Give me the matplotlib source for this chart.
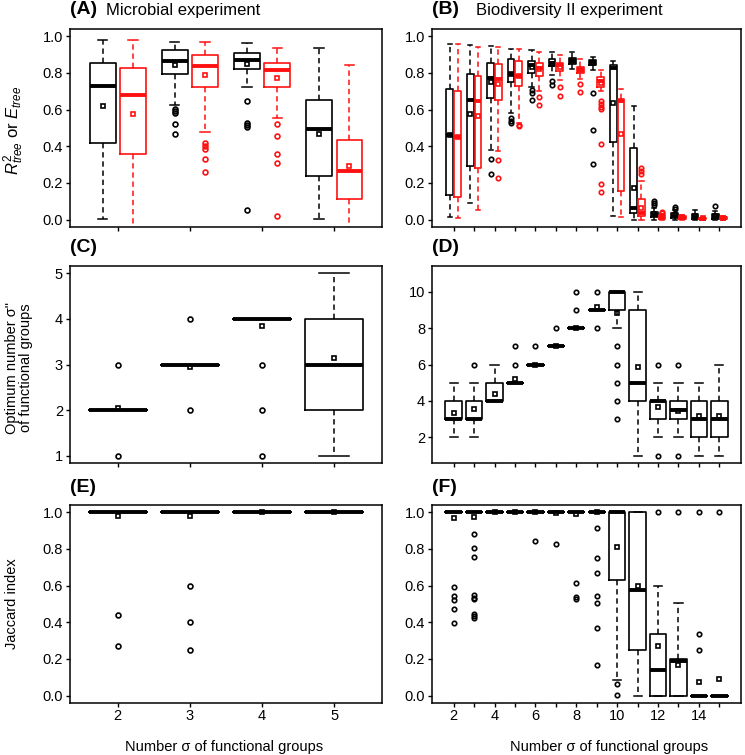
import matplotlib
matplotlib.use("Agg")
import matplotlib.pyplot as plt

plt.rcParams['font.family'] = ['Liberation Sans', 'DejaVu Sans']
plt.rcParams['mathtext.fontset'] = 'custom'
plt.rcParams['mathtext.rm'] = 'Liberation Sans'
plt.rcParams['mathtext.it'] = 'Liberation Sans:italic'

RED = '#ff1010'

# ---- data: (whisker low, q1, median, q3, whisker high) per group ----
A_groups = [2, 3, 4, 5]
A_blk_box = [(0.005, 0.42, 0.731, 0.852, 0.982),
             (0.627, 0.795, 0.868, 0.923, 0.969),
             (0.722, 0.823, 0.870, 0.911, 0.962),
             (0.005, 0.238, 0.495, 0.654, 0.938)]
A_blk_mean = [0.62, 0.841, 0.85, 0.466]
A_blk_out = [[], [0.603, 0.591, 0.58, 0.521, 0.468],
             [0.649, 0.53, 0.517, 0.503, 0.055], []]
A_red_box = [(-0.25, 0.357, 0.682, 0.828, 0.978),
             (0.479, 0.722, 0.836, 0.896, 0.969),
             (0.554, 0.726, 0.814, 0.854, 0.936),
             (-0.25, 0.11, 0.265, 0.433, 0.845)]
A_red_mean = [0.576, 0.79, 0.773, 0.292]
A_red_out = [[], [0.42, 0.40, 0.388, 0.333, 0.26],
             [0.521, 0.457, 0.357, 0.307, 0.022], []]

B_groups = list(range(2, 16))
B_blk_box = [(0.013, 0.132, 0.461, 0.713, 0.956),
             (0.091, 0.291, 0.653, 0.792, 0.955),
             (0.378, 0.662, 0.772, 0.856, 0.945),
             (0.58, 0.75, 0.795, 0.874, 0.933),
             (0.726, 0.801, 0.841, 0.863, 0.923),
             (0.79, 0.836, 0.854, 0.874, 0.912),
             (0.823, 0.85, 0.865, 0.881, 0.914),
             (0.814, 0.841, 0.859, 0.872, 0.89),
             (0.018, 0.426, 0.827, 0.841, 0.863),
             (0.0, 0.037, 0.064, 0.389, 0.622),
             (0.0, 0.012, 0.025, 0.04, 0.065),
             (0.0, 0.01, 0.02, 0.035, 0.05),
             (0.0, 0.005, 0.015, 0.03, 0.055),
             (0.0, 0.005, 0.015, 0.03, 0.045)]
B_blk_mean = [0.46, 0.576, 0.75, 0.795, 0.835, 0.85, 0.863, 0.855,
              0.635, 0.174, 0.03, 0.025, 0.018, 0.02]
B_blk_out = [[], [], [0.333, 0.247], [0.554, 0.539, 0.528],
             [0.708, 0.69, 0.653], [0.755, 0.735], [], [0.69, 0.488, 0.302],
             [], [], [0.078, 0.092, 0.104], [0.058, 0.07], [], [0.075]]
B_red_box = [(0.01, 0.122, 0.452, 0.704, 0.956),
             (0.05, 0.283, 0.649, 0.786, 0.942),
             (0.375, 0.653, 0.768, 0.85, 0.942),
             (0.525, 0.731, 0.786, 0.865, 0.933),
             (0.704, 0.783, 0.827, 0.856, 0.914),
             (0.762, 0.81, 0.841, 0.856, 0.896),
             (0.768, 0.799, 0.817, 0.832, 0.878),
             (0.704, 0.726, 0.755, 0.777, 0.814),
             (0.013, 0.155, 0.649, 0.658, 0.713),
             (0.0, 0.018, 0.035, 0.113, 0.21),
             (0.0, 0.005, 0.015, 0.025, 0.03),
             (0.0, 0.002, 0.008, 0.018, 0.025),
             (0.0, 0.003, 0.006, 0.009, 0.012),
             (0.0, 0.004, 0.008, 0.015, 0.02)]
B_red_mean = [0.452, 0.567, 0.741, 0.786, 0.82, 0.835, 0.815, 0.745,
              0.466, 0.065, 0.018, 0.012, 0.007, 0.01]
B_red_out = [[], [], [0.324, 0.227], [0.517, 0.51], [0.667, 0.624],
             [0.722, 0.676], [0.741, 0.695],
             [0.646, 0.631, 0.616, 0.603, 0.415, 0.192, 0.15],
             [], [0.25, 0.265, 0.28], [0.035, 0.04], [], [], []]

C_box = [(2, 2, 2, 2, 2), (3, 3, 3, 3, 3), (4, 4, 4, 4, 4), (1, 2, 3, 4, 5)]
C_mean = [2.05, 2.95, 3.85, 3.15]
C_out = [[1, 3], [2, 4], [1, 2, 3], []]

D_box = [(2, 3, 3, 4, 5), (2, 3, 3, 4, 5), (4, 4, 4, 5, 6), (5, 5, 5, 5, 5),
         (6, 6, 6, 6, 6), (7, 7, 7, 7, 7), (8, 8, 8, 8, 8), (9, 9, 9, 9, 9),
         (8, 9, 10, 10, 10), (1, 4, 5, 9, 10), (2, 3, 4, 4, 5),
         (2, 3, 3.5, 4, 5), (1, 2, 3, 4, 5), (1, 2, 3, 4, 6)]
D_mean = [3.35, 3.54, 4.36, 5.2, 6.0, 7.0, 8.0, 9.15, 8.85, 5.85, 3.65,
          3.45, 3.15, 3.15]
D_out = [[], [6], [], [6, 7], [7], [8], [9, 10], [8, 10], [7, 6, 5, 4, 3],
         [], [1, 6], [1, 6], [], []]

E_box = [(1, 1, 1, 1, 1)] * 4
E_mean = [0.98, 0.98, 1.0, 1.0]
E_out = [[0.44, 0.27], [0.6, 0.4, 0.25], [], []]

F_box = [(1, 1, 1, 1, 1)] * 8 + [(0.086, 0.633, 1.0, 1.0, 1.0),
                                 (0.0, 0.251, 0.578, 1.0, 1.0),
                                 (0.0, 0.0, 0.141, 0.334, 0.6),
                                 (0.0, 0.0, 0.187, 0.2, 0.503),
                                 (0, 0, 0, 0, 0), (0, 0, 0, 0, 0)]
F_mean = [0.967, 0.976, 1.0, 1.0, 1.0, 0.998, 0.99, 1.0, 0.811, 0.6, 0.27,
          0.169, 0.077, 0.092]
F_out = [[0.591, 0.545, 0.521, 0.475, 0.395],
         [0.881, 0.806, 0.758, 0.549, 0.535, 0.527, 0.444, 0.435, 0.426],
         [], [], [0.844], [0.826], [0.617, 0.538, 0.53],
         [0.916, 0.751, 0.67, 0.545, 0.505, 0.371, 0.165],
         [0.064, 0.004], [], [1.0], [1.0], [1.0, 0.334, 0.251], [1.0]]


def stats(box, means, outs):
    res = []
    for (lo, q1, med, q3, hi), m, o in zip(box, means, outs):
        res.append(dict(whislo=lo, q1=q1, med=med, q3=q3, whishi=hi,
                        mean=m, fliers=o))
    return res


def draw(ax, box, means, outs, pos, width, capw, color, ms=3.5):
    ax.bxp(stats(box, means, outs), positions=pos, widths=width,
           capwidths=capw, showmeans=True, manage_ticks=False,
           boxprops=dict(color=color, lw=1.2),
           medianprops=dict(color=color, lw=2.8, solid_capstyle='butt'),
           whiskerprops=dict(color=color, lw=1.1, linestyle=(0, (3.5, 2.5))),
           capprops=dict(color=color, lw=1.1),
           flierprops=dict(marker='o', ms=ms, mfc='none', mec=color, mew=1.2),
           meanprops=dict(marker='s', ms=ms - 0.5, mfc='none', mec=color,
                          mew=1.2))


def frame(ax, groups, ylim, yticks, yfmt, xlabels=False, every=1):
    pad = 0.66 if len(groups) < 5 else 1.06
    ax.set_xlim(groups[0] - pad, groups[-1] + pad)
    ax.set_ylim(ylim)
    ax.set_yticks(yticks)
    ax.set_yticklabels([yfmt.format(v) for v in yticks])
    ax.set_xticks(groups)
    if xlabels:
        ax.set_xticklabels([str(g) if (g - groups[0]) % every == 0 else ''
                            for g in groups])
    else:
        ax.set_xticklabels([])
    ax.tick_params(direction='out', length=3, width=1, labelsize=10.5, pad=2)
    ax.tick_params(axis='x', pad=1)
    for s in ax.spines.values():
        s.set_linewidth(1.1)


W, H = 745, 755
fig = plt.figure(figsize=(W / 100, H / 100), dpi=100)


def axes(l, r, t, b):
    return fig.add_axes([l / W, 1 - b / H, (r - l) / W, (b - t) / H])


axA = axes(70, 382, 29, 227)
axB = axes(432, 741, 29, 227)
axC = axes(70, 382, 266, 463)
axD = axes(432, 741, 266, 463)
axE = axes(70, 382, 505, 703)
axF = axes(432, 741, 505, 703)

draw(axA, A_blk_box, A_blk_mean, A_blk_out, [g - 0.21 for g in A_groups],
     0.36, 0.13, 'black')
draw(axA, A_red_box, A_red_mean, A_red_out, [g + 0.21 for g in A_groups],
     0.36, 0.13, RED)
draw(axB, B_blk_box, B_blk_mean, B_blk_out, [g - 0.19 for g in B_groups],
     0.33, 0.2, 'black', ms=3.2)
draw(axB, B_red_box, B_red_mean, B_red_out, [g + 0.19 for g in B_groups],
     0.33, 0.2, RED, ms=3.2)
draw(axC, C_box, C_mean, C_out, A_groups, 0.8, 0.42, 'black')
draw(axD, D_box, D_mean, D_out, B_groups, 0.8, 0.4, 'black', ms=3.2)
draw(axE, E_box, E_mean, E_out, A_groups, 0.8, 0.42, 'black')
draw(axF, F_box, F_mean, F_out, B_groups, 0.8, 0.4, 'black', ms=3.2)

unit = [0.0, 0.2, 0.4, 0.6, 0.8, 1.0]
frame(axA, A_groups, (-0.04, 1.04), unit, '{:.1f}')
frame(axB, B_groups, (-0.04, 1.04), unit, '{:.1f}')
frame(axC, A_groups, (0.84, 5.16), [1, 2, 3, 4, 5], '{:d}')
frame(axD, B_groups, (0.6, 11.4), [2, 4, 6, 8, 10], '{:d}')
frame(axE, A_groups, (-0.04, 1.04), unit, '{:.1f}', xlabels=True)
frame(axF, B_groups, (-0.04, 1.04), unit, '{:.1f}', xlabels=True, every=2)

# panel titles
fig.text(70 / W, 1 - 10 / H, '(A)', fontsize=14, fontweight='bold', va='center')
fig.text(106 / W, 1 - 10 / H, 'Microbial experiment', fontsize=12, va='center')
fig.text(432 / W, 1 - 10 / H, '(B)', fontsize=14, fontweight='bold', va='center')
fig.text(476 / W, 1 - 10 / H, 'Biodiversity II experiment', fontsize=12,
         va='center')
for lab, x, y in [('(C)', 70, 247), ('(D)', 432, 247),
                  ('(E)', 70, 488), ('(F)', 432, 488)]:
    fig.text(x / W, 1 - y / H, lab, fontsize=14, fontweight='bold',
             va='center')

# axis labels
fig.text(14 / W, 1 - 130 / H, r'$R^{2}_{tree}$ or $E_{tree}$', rotation=90,
         fontsize=12, ha='center', va='center')
fig.text(19 / W, 1 - 368 / H, 'Optimum number σ"\nof functional groups',
         rotation=90, fontsize=10.5, ha='center', va='center', linespacing=1.0)
fig.text(12 / W, 1 - 604 / H, 'Jaccard index', rotation=90, fontsize=10.5,
         ha='center', va='center')
fig.text(224 / W, 1 - 747 / H, 'Number σ of functional groups', fontsize=10.5,
         ha='center', va='center')
fig.text(609 / W, 1 - 747 / H, 'Number σ of functional groups', fontsize=10.5,
         ha='center', va='center')

fig.savefig('out.png', dpi=100)
